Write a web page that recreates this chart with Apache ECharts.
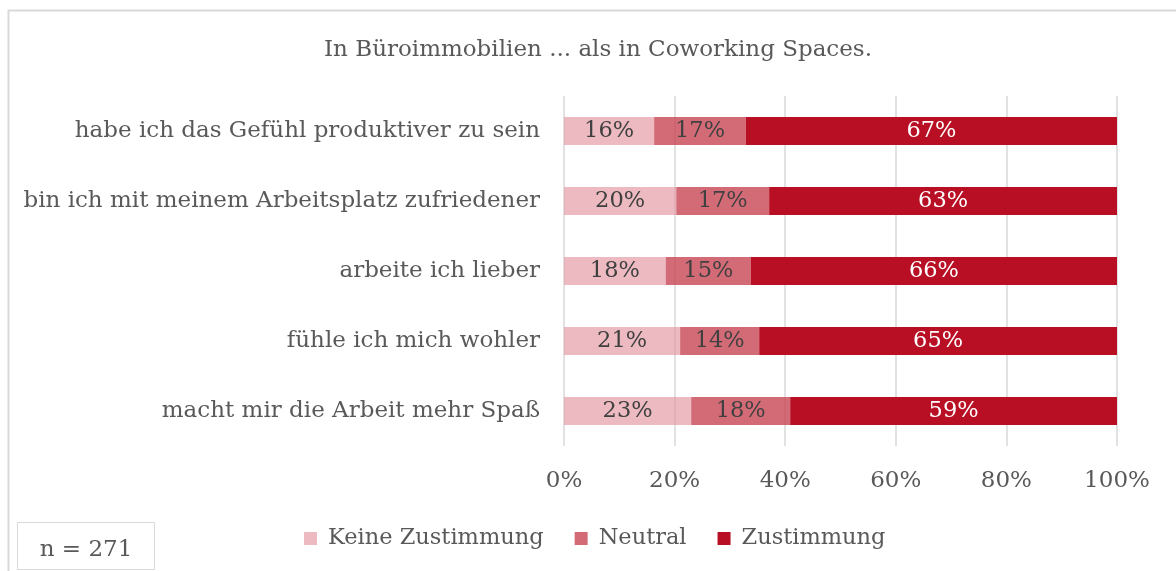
<!DOCTYPE html>
<html>
<head>
<meta charset="utf-8">
<script src="https://cdn.jsdelivr.net/npm/echarts@6/dist/echarts.min.js"></script>
<style>
* { margin: 0; padding: 0; }
body { background: #fff; }
</style>
</head>
<body>
<div id="main" style="width:1176px;height:571px;background:white;"></div>
<script>
// Kategorien (von oben nach unten)
var categories = [
  "habe ich das Gefühl produktiver zu sein",
  "bin ich mit meinem Arbeitsplatz zufriedener",
  "arbeite ich lieber",
  "fühle ich mich wohler",
  "macht mir die Arbeit mehr Spaß"
];
var keineZustimmung = [16.3, 20.3, 18.4, 21.0, 23.0];
var neutral = [16.6, 16.8, 15.4, 14.3, 17.9];
var zustimmung = [67.1, 62.9, 66.2, 64.7, 59.1];
var seriesNames = ["Keine Zustimmung", "Neutral", "Zustimmung"];
var xTicks = [0, 20, 40, 60, 80, 100];

var FONT = "DejaVu Serif";
var chart = echarts.init(document.getElementById("main"));

function pct(p) { return Math.round(p.value) + "%"; }

function bar(name, data, color, labelColor) {
  return {
    name: name,
    type: "bar",
    stack: "total",
    barWidth: 28,
    data: data,
    itemStyle: { color: color },
    label: {
      show: true,
      position: "inside",
      formatter: pct,
      color: labelColor,
      fontFamily: FONT,
      fontSize: 22.5
    }
  };
}

chart.setOption({
  animation: false,
  title: {
    text: "In Büroimmobilien ... als in Coworking Spaces.",
    left: 593,
    top: 34,
    textAlign: "center",
    textStyle: { fontFamily: FONT, fontWeight: "normal", fontSize: 23, color: "#595959" }
  },
  legend: {
    data: seriesNames,
    left: 304,
    top: 527,
    padding: 0,
    icon: "rect",
    itemWidth: 13,
    itemHeight: 13,
    itemGap: 31,
    textStyle: { fontFamily: FONT, fontSize: 22.5, color: "#595959", padding: [0, 0, 0, 6] }
  },
  grid: { left: 564, width: 553, top: 96, height: 350 },
  xAxis: {
    type: "value",
    min: 0,
    max: 100,
    interval: 20,
    axisLine: { show: false },
    axisTick: { show: false },
    axisLabel: {
      margin: 24,
      fontFamily: FONT,
      fontSize: 23,
      color: "#595959",
      formatter: function (v) { return xTicks.indexOf(v) >= 0 ? v + "%" : ""; }
    },
    splitLine: { lineStyle: { color: "#d9d9d9", width: 1.5 } }
  },
  yAxis: {
    type: "category",
    inverse: true,
    data: categories,
    axisLine: { show: false },
    axisTick: { show: false },
    axisLabel: { margin: 24, fontFamily: FONT, fontSize: 23, color: "#595959" }
  },
  series: [
    bar(seriesNames[0], keineZustimmung, "rgba(224,140,150,0.6)", "#404040"),
    bar(seriesNames[1], neutral, "rgba(200,70,85,0.8)", "#404040"),
    bar(seriesNames[2], zustimmung, "#b80f24", "#ffffff")
  ],
  graphic: [
    {
      type: "rect",
      shape: { x: 8.5, y: 10.5, width: 1200, height: 700 },
      style: { fill: null, stroke: "#d9d9d9", lineWidth: 2 },
      silent: true
    },
    {
      type: "rect",
      shape: { x: 17.5, y: 522.5, width: 137, height: 47 },
      style: { fill: "#fff", stroke: "#d9d9d9", lineWidth: 1 }
    },
    {
      type: "text",
      x: 86,
      y: 550,
      style: {
        text: "n = 271",
        fontFamily: FONT,
        fontSize: 23,
        fill: "#595959",
        align: "center",
        verticalAlign: "middle"
      }
    }
  ]
});
</script>
</body>
</html>
